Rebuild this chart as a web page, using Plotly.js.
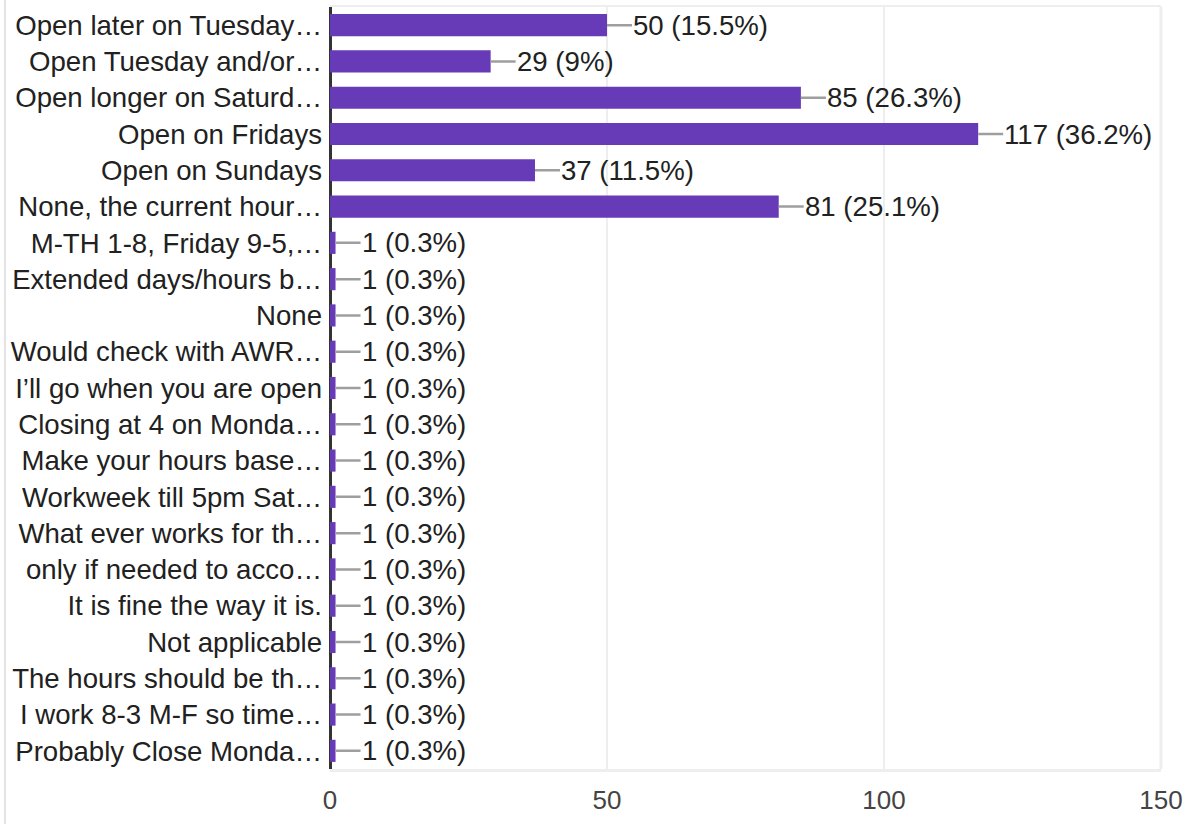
<!DOCTYPE html>
<html>
<head>
<meta charset="utf-8">
<script src="https://cdn.plot.ly/plotly-3.0.1.min.js"></script>
<style>
  html, body { margin: 0; padding: 0; background: #fff; }
  #wrap { position: relative; width: 1193px; height: 824px; }
  #card { position: absolute; left: 4px; top: 0; width: 2px; height: 824px; background: #e3e3e3; }
  #chart { position: absolute; left: 0; top: 0; width: 1193px; height: 824px; }
</style>
</head>
<body>
<div id="wrap"><div id="card"></div><div id="chart"></div></div>
<script>
const categories = [
  "Open later on Tuesday…",
  "Open Tuesday and/or…",
  "Open longer on Saturd…",
  "Open on Fridays",
  "Open on Sundays",
  "None, the current hour…",
  "M-TH 1-8, Friday 9-5,…",
  "Extended days/hours b…",
  "None",
  "Would check with AWR…",
  "I’ll go when you are open",
  "Closing at 4 on Monda…",
  "Make your hours base…",
  "Workweek till 5pm Sat…",
  "What ever works for th…",
  "only if needed to acco…",
  "It is fine the way it is.",
  "Not applicable",
  "The hours should be th…",
  "I work 8-3 M-F so time…",
  "Probably Close Monda…"
];
const counts = [50, 29, 85, 117, 37, 81, 1, 1, 1, 1, 1, 1, 1, 1, 1, 1, 1, 1, 1, 1, 1];
const percents = ["15.5", "9", "26.3", "36.2", "11.5", "25.1", "0.3", "0.3", "0.3", "0.3", "0.3", "0.3", "0.3", "0.3", "0.3", "0.3", "0.3", "0.3", "0.3", "0.3", "0.3"];
const xTicks = [0, 50, 100, 150];

const FONT = "Arial, 'Liberation Sans', sans-serif";

const trace = {
  type: "bar",
  orientation: "h",
  x: counts,
  y: categories,
  marker: { color: "#673ab7" },
  hoverinfo: "none"
};

const annotations = counts.map((v, i) => ({
  x: v,
  y: categories[i],
  xref: "x",
  yref: "y",
  text: v + " (" + percents[i] + "%)",
  showarrow: true,
  arrowhead: 0,
  arrowwidth: 2.5,
  arrowcolor: "#9e9e9e",
  ax: 25,
  ay: 0,
  xanchor: "left",
  yanchor: "middle",
  standoff: 0,
  startstandoff: 0,
  borderpad: 0,
  font: { family: FONT, size: 27.6, color: "#212121" }
}));

const layout = {
  width: 1193,
  height: 824,
  margin: { l: 330, r: 32, t: 7, b: 55 },
  paper_bgcolor: "rgba(0,0,0,0)",
  plot_bgcolor: "#ffffff",
  showlegend: false,
  bargap: 0.39,
  font: { family: FONT, color: "#212121" },
  xaxis: {
    range: [0, 150],
    tickvals: xTicks,
    ticktext: xTicks.map(String),
    showgrid: true,
    gridcolor: "#eeeeee",
    gridwidth: 2.5,
    zeroline: true,
    zerolinecolor: "#333333",
    zerolinewidth: 3,
    showline: true,
    mirror: true,
    linecolor: "#eeeeee",
    linewidth: 2.5,
    ticks: "",
    ticklabelstandoff: 6,
    tickfont: { family: FONT, size: 26, color: "#444444" },
    fixedrange: true
  },
  yaxis: {
    autorange: "reversed",
    showgrid: false,
    zeroline: false,
    showline: false,
    ticks: "",
    ticklabelstandoff: 7,
    tickfont: { family: FONT, size: 27.6, color: "#212121" },
    fixedrange: true
  },
  shapes: [{
    type: "line",
    xref: "paper", yref: "paper",
    x0: 1, x1: 1, y0: 0, y1: 1,
    line: { color: "#eeeeee", width: 3 },
    layer: "below"
  }],
  annotations: annotations
};

Plotly.newPlot("chart", [trace], layout, { displayModeBar: false, staticPlot: true });
</script>
</body>
</html>
